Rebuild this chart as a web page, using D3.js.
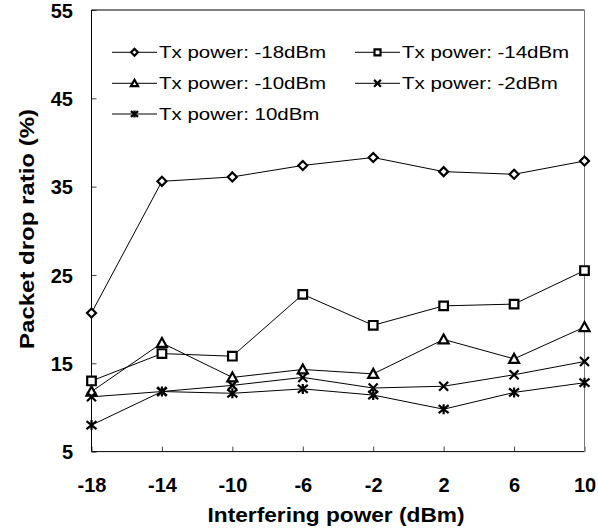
<!DOCTYPE html>
<html>
<head>
<meta charset="utf-8">
<script src="https://cdn.jsdelivr.net/npm/d3@7"></script>
<style>
  body { margin: 0; background: #fff; }
  svg { display: block; font-family: "Liberation Sans", Arial, sans-serif; }
  .tick text { font-size: 20px; font-weight: bold; fill: #000; }
</style>
</head>
<body>
<script>
// data
var interferingPower = [-18, -14, -10, -6, -2, 2, 6, 10];
var seriesNames = ["Tx power: -18dBm", "Tx power: -14dBm", "Tx power: -10dBm", "Tx power: -2dBm", "Tx power: 10dBm"];
var dropTx18 = [20.7, 35.6, 36.1, 37.4, 38.3, 36.7, 36.4, 37.9];
var dropTx14 = [13.0, 16.1, 15.8, 22.8, 19.3, 21.5, 21.7, 25.5];
var dropTx10 = [11.8, 17.3, 13.4, 14.3, 13.8, 17.7, 15.5, 19.1];
var dropTx2 = [11.2, 11.8, 12.5, 13.4, 12.2, 12.4, 13.7, 15.2];
var dropTxP10 = [8.0, 11.8, 11.6, 12.1, 11.4, 9.8, 11.7, 12.8];
var yTicks = [5, 15, 25, 35, 45, 55];

// Settings
var w = 598, h = 531;
var pLeft = 91.5, pRight = 584.5, pTop = 10, pBottom = 451.6;

// marker shapes (size = half width)
var diamond = { draw: function(c, r) { c.moveTo(0, -r); c.lineTo(r, 0); c.lineTo(0, r); c.lineTo(-r, 0); c.closePath(); } };
var square = { draw: function(c, r) { c.rect(-r, -r, 2 * r, 2 * r); } };
var triangle = { draw: function(c, r) { c.moveTo(0, -r); c.lineTo(r, r * 0.8); c.lineTo(-r, r * 0.8); c.closePath(); } };
var cross = { draw: function(c, r) { c.moveTo(-r, -r); c.lineTo(r, r); c.moveTo(-r, r); c.lineTo(r, -r); } };
var star = { draw: function(c, r) { c.moveTo(-r, -r * 0.8); c.lineTo(r, r * 0.8); c.moveTo(-r, r * 0.8); c.lineTo(r, -r * 0.8); c.moveTo(0, -r); c.lineTo(0, r); } };

var series = [
  { name: seriesNames[0], values: dropTx18, shape: diamond, r: 4.5, lr: 3.4, fill: "#fff" },
  { name: seriesNames[1], values: dropTx14, shape: square, r: 4.3, lr: 3, fill: "#fff" },
  { name: seriesNames[2], values: dropTx10, shape: triangle, r: 5, lr: 3.6, fill: "#fff" },
  { name: seriesNames[3], values: dropTx2, shape: cross, r: 4.5, lr: 3.4, fill: "none" },
  { name: seriesNames[4], values: dropTxP10, shape: star, r: 5, lr: 3.6, fill: "none" }
];

var fmt = function(d) { return String(d); };  // plain hyphen minus

var xScale = d3.scaleLinear().domain([-18, 10]).range([pLeft, pRight]);
var yScale = d3.scaleLinear().domain([5, 55]).range([pBottom, pTop]);

var svg = d3.select("body").append("svg").attr("width", w).attr("height", h);

// axes
var xAxis = d3.axisBottom(xScale).tickValues(interferingPower).tickFormat(fmt)
  .tickSizeInner(-5).tickSizeOuter(0).tickPadding(26.5);
var yAxis = d3.axisLeft(yScale).tickValues(yTicks).tickFormat(fmt)
  .tickSizeInner(-5).tickSizeOuter(0).tickPadding(18.5);

var gx = svg.append("g").attr("transform", "translate(0," + pBottom + ")").call(xAxis);
var gy = svg.append("g").attr("transform", "translate(" + pLeft + ",0)").call(yAxis);
gx.select(".domain").remove();
gy.select(".domain").remove();
svg.selectAll(".tick line").attr("stroke", "#444");
gx.selectAll(".tick text").attr("dy", "0.71em");
gy.selectAll(".tick text").attr("dy", "0.36em");

// frame
svg.append("line").attr("x1", pLeft).attr("x2", pRight).attr("y1", pTop).attr("y2", pTop).attr("stroke", "#000");
svg.append("line").attr("x1", pLeft).attr("x2", pLeft).attr("y1", pTop).attr("y2", pBottom).attr("stroke", "#000");
svg.append("line").attr("x1", pLeft).attr("x2", pRight).attr("y1", pBottom).attr("y2", pBottom).attr("stroke", "#000");
svg.append("line").attr("x1", pRight).attr("x2", pRight).attr("y1", pTop).attr("y2", pBottom).attr("stroke", "#777");

// axis titles
svg.append("text")
  .attr("transform", "translate(336,521.5) scale(1.08,1)")
  .attr("text-anchor", "middle")
  .style("font-size", "21px").style("font-weight", "bold")
  .text("Interfering power (dBm)");

svg.append("text")
  .attr("transform", "translate(34,229) rotate(-90) scale(1.2,1)")
  .attr("text-anchor", "middle")
  .style("font-size", "20px").style("font-weight", "bold")
  .text("Packet drop ratio (%)");

// lines and markers
var line = d3.line()
  .x(function(d, i) { return xScale(interferingPower[i]); })
  .y(function(d) { return yScale(d); });

var groups = svg.selectAll("g.series")
  .data(series)
  .enter()
  .append("g")
  .attr("class", "series");

groups.append("path")
  .attr("d", function(d) { return line(d.values); })
  .attr("fill", "none")
  .attr("stroke", "#000")
  .attr("stroke-width", 1);

groups.each(function(s) {
  d3.select(this).selectAll("path.mk")
    .data(s.values)
    .enter()
    .append("path")
    .attr("class", "mk")
    .attr("transform", function(d, i) { return "translate(" + xScale(interferingPower[i]) + "," + yScale(d) + ")"; })
    .attr("d", d3.symbol().type(s.shape).size(s.r))
    .attr("fill", s.fill)
    .attr("stroke", "#000")
    .attr("stroke-width", 2.2);
});

// legend
var legendPos = [
  { x: 112, y: 52.3 }, { x: 355, y: 52.3 },
  { x: 112, y: 83.3 }, { x: 355, y: 83.3 },
  { x: 112, y: 114 }
];
var legend = svg.selectAll("g.legend")
  .data(series)
  .enter()
  .append("g")
  .attr("class", "legend")
  .attr("transform", function(d, i) { return "translate(" + legendPos[i].x + "," + legendPos[i].y + ")"; });

legend.append("line")
  .attr("x1", 0).attr("x2", 45).attr("y1", 0).attr("y2", 0)
  .attr("stroke", "#000").attr("stroke-width", 1);

legend.append("path")
  .attr("transform", "translate(22.5,0)")
  .attr("d", function(d) { return d3.symbol().type(d.shape).size(d.lr)(); })
  .attr("fill", function(d) { return d.fill; })
  .attr("stroke", "#000")
  .attr("stroke-width", 2.2);

legend.append("text")
  .attr("transform", "translate(47,5.5) scale(1.28,1)")
  .style("font-size", "16px")
  .text(function(d) { return d.name; });
</script>
</body>
</html>
